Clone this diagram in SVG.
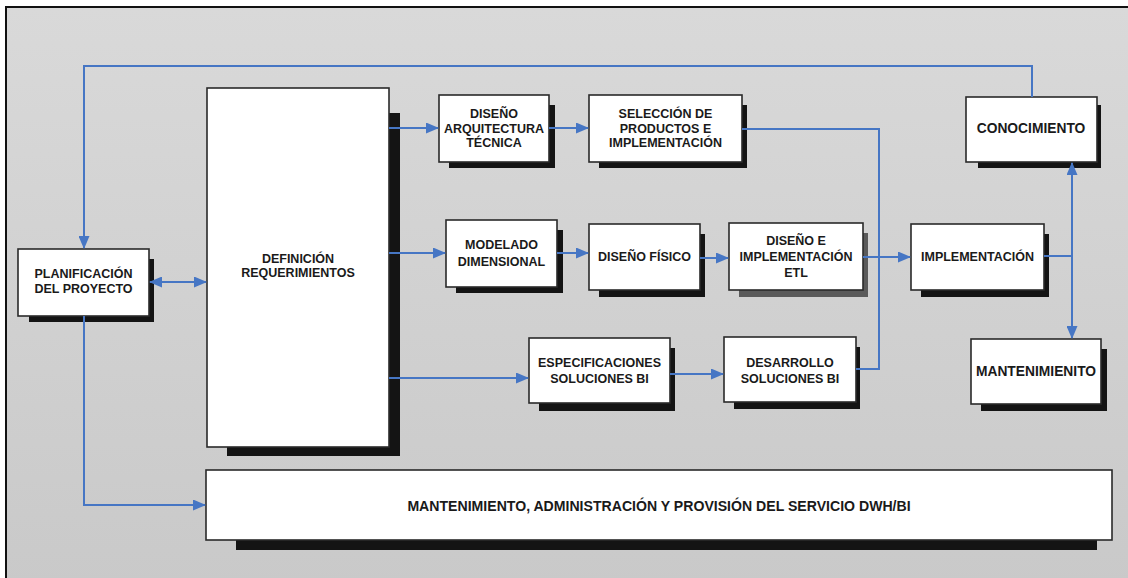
<svg xmlns="http://www.w3.org/2000/svg" width="1128" height="578" viewBox="0 0 1128 578">
  <defs>
    <linearGradient id="bg" x1="0" y1="0" x2="0" y2="1">
      <stop offset="0" stop-color="#d9d9d9"/>
      <stop offset="1" stop-color="#c9c9c9"/>
    </linearGradient>
    <marker id="arr" viewBox="0 0 13 11" refX="12" refY="5.5" markerWidth="13" markerHeight="11" markerUnits="userSpaceOnUse" orient="auto-start-reverse">
      <path d="M0,0 L13,5.5 L0,11 z" fill="#4676c4"/>
    </marker>
    <style>
      .box { fill: #ffffff; stroke: #2a2a2a; stroke-width: 1.6; }
      .sh { fill: #141414; }
      .shg { fill: #5a5a5a; }
      .t { font-family: "Liberation Sans", Arial, sans-serif; font-weight: bold; font-size: 12.5px; fill: #1a1a1a; text-anchor: middle; }
      .tl { font-size: 13.8px; }
      .tb { font-size: 14.1px; }
      .c { fill: none; stroke: #4676c4; stroke-width: 2; }
    </style>
  </defs>

  <rect x="0" y="0" width="1128" height="578" fill="#ffffff"/>
  <rect x="6" y="7" width="1130" height="580" fill="url(#bg)" stroke="#111" stroke-width="2"/>

  <g id="planificacion">
    <rect class="sh" x="29" y="259" width="125" height="63"/>
    <rect class="box" x="18" y="249" width="131" height="67"/>
    <text class="t" x="83.5" y="277.5">PLANIFICACIÓN</text>
    <text class="t" x="83.5" y="292.5">DEL PROYECTO</text>
  </g>

  <g id="definicion">
    <rect class="sh" x="227" y="113" width="173" height="343"/>
    <rect class="box" x="207" y="88" width="182" height="359"/>
    <text class="t" x="298" y="262.5">DEFINICIÓN</text>
    <text class="t" x="298" y="276.5">REQUERIMIENTOS</text>
  </g>

  <g id="arquitectura">
    <rect class="sh" x="449" y="105" width="106" height="63"/>
    <rect class="box" x="439" y="95" width="110" height="67"/>
    <text class="t" x="494" y="117.5">DISEÑO</text>
    <text class="t" x="494" y="132.5">ARQUITECTURA</text>
    <text class="t" x="494" y="146.5">TÉCNICA</text>
  </g>

  <g id="seleccion">
    <rect class="sh" x="599" y="105" width="148" height="63"/>
    <rect class="box" x="589" y="95" width="153" height="67"/>
    <text class="t" x="665.5" y="117.5">SELECCIÓN DE</text>
    <text class="t" x="665.5" y="132.5">PRODUCTOS E</text>
    <text class="t" x="665.5" y="146.5">IMPLEMENTACIÓN</text>
  </g>

  <g id="modelado">
    <rect class="sh" x="456" y="230" width="107" height="63"/>
    <rect class="box" x="446" y="220" width="111" height="67"/>
    <text class="t" x="501.5" y="248.5">MODELADO</text>
    <text class="t" x="501.5" y="265.5">DIMENSIONAL</text>
  </g>

  <g id="fisico">
    <rect class="sh" x="599" y="234" width="106" height="63"/>
    <rect class="box" x="589" y="224" width="111" height="66"/>
    <text class="t" x="644.5" y="260.5">DISEÑO FÍSICO</text>
  </g>

  <g id="etl">
    <rect class="shg" x="739" y="233" width="129" height="64"/>
    <rect class="box" x="729" y="223" width="134" height="67"/>
    <text class="t" x="796" y="244.5">DISEÑO E</text>
    <text class="t" x="796" y="260.5">IMPLEMENTACIÓN</text>
    <text class="t" x="796" y="276.5">ETL</text>
  </g>

  <g id="especificaciones">
    <rect class="sh" x="539" y="348" width="136" height="63"/>
    <rect class="box" x="529" y="338" width="141" height="65"/>
    <text class="t" x="599.5" y="366.5">ESPECIFICACIONES</text>
    <text class="t" x="599.5" y="382.5">SOLUCIONES BI</text>
  </g>

  <g id="desarrollo">
    <rect class="sh" x="734" y="347" width="126" height="62"/>
    <rect class="box" x="724" y="337" width="132" height="65"/>
    <text class="t" x="790" y="366.5">DESARROLLO</text>
    <text class="t" x="790" y="382.5">SOLUCIONES BI</text>
  </g>

  <g id="implementacion">
    <rect class="sh" x="921" y="234" width="128" height="63"/>
    <rect class="box" x="911" y="224" width="133" height="66"/>
    <text class="t" x="977.5" y="260.5">IMPLEMENTACIÓN</text>
  </g>

  <g id="conocimiento">
    <rect class="sh" x="978" y="105" width="123" height="63"/>
    <rect class="box" x="966" y="97" width="131" height="65"/>
    <text class="t tl" x="1031" y="133">CONOCIMIENTO</text>
  </g>

  <g id="mantenimiento">
    <rect class="sh" x="981" y="349" width="126" height="62"/>
    <rect class="box" x="971" y="339" width="130" height="65"/>
    <text class="t tl" x="1036" y="376">MANTENIMIENITO</text>
  </g>

  <g id="servicio">
    <rect class="sh" x="236" y="480" width="861" height="70"/>
    <rect class="box" x="206" y="470" width="906" height="70"/>
    <text class="t tb" x="659" y="511">MANTENIMIENTO, ADMINISTRACIÓN Y PROVISIÓN DEL SERVICIO DWH/BI</text>
  </g>

  <g id="connectors">
    <polyline class="c" points="1032,97 1032,66 84,66 84,248" marker-end="url(#arr)"/>
    <line class="c" x1="150" y1="282" x2="206" y2="282" marker-start="url(#arr)" marker-end="url(#arr)"/>
    <polyline class="c" points="84,316 84,505 205,505" marker-end="url(#arr)"/>
    <line class="c" x1="389" y1="128" x2="438" y2="128" marker-end="url(#arr)"/>
    <line class="c" x1="549" y1="128" x2="588" y2="128" marker-end="url(#arr)"/>
    <line class="c" x1="389" y1="253" x2="445" y2="253" marker-end="url(#arr)"/>
    <line class="c" x1="557" y1="253" x2="588" y2="253" marker-end="url(#arr)"/>
    <line class="c" x1="700" y1="258" x2="728" y2="258" marker-end="url(#arr)"/>
    <line class="c" x1="863" y1="257" x2="910" y2="257" marker-end="url(#arr)"/>
    <line class="c" x1="389" y1="378" x2="528" y2="378" marker-end="url(#arr)"/>
    <line class="c" x1="670" y1="374" x2="723" y2="374" marker-end="url(#arr)"/>
    <polyline class="c" points="742,129 879,129 879,369 856,369"/>
    <line class="c" x1="1044" y1="256" x2="1072" y2="256"/>
    <line class="c" x1="1072" y1="256" x2="1072" y2="163" marker-end="url(#arr)"/>
    <line class="c" x1="1072" y1="256" x2="1072" y2="338" marker-end="url(#arr)"/>
  </g>
</svg>
